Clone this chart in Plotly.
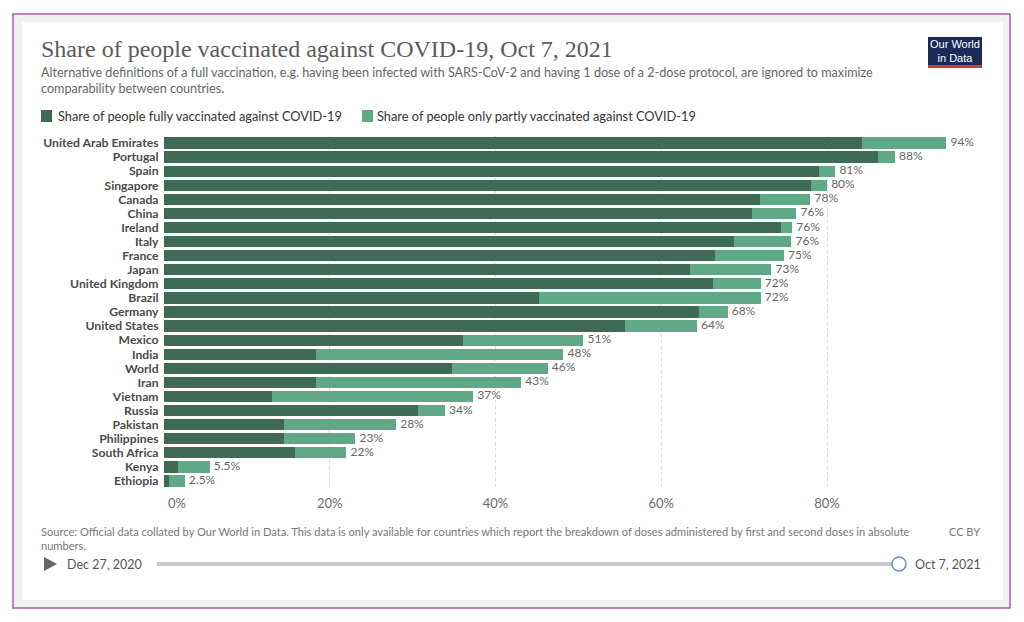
import plotly.graph_objects as go

countries = ["United Arab Emirates", "Portugal", "Spain", "Singapore", "Canada", "China",
             "Ireland", "Italy", "France", "Japan", "United Kingdom", "Brazil", "Germany",
             "United States", "Mexico", "India", "World", "Iran", "Vietnam", "Russia",
             "Pakistan", "Philippines", "South Africa", "Kenya", "Ethiopia"]
fully = [84.2, 86.1, 79.0, 78.1, 71.9, 70.9, 74.4, 68.8, 66.5, 63.5, 66.2, 45.2, 64.6,
         55.6, 36.1, 18.4, 34.7, 18.4, 13.0, 30.7, 14.5, 14.5, 15.8, 1.65, 0.64]
total = [94.4, 88.2, 81.0, 80.0, 78.0, 76.3, 75.8, 75.7, 74.8, 73.3, 72.0, 72.0, 68.0,
         64.3, 50.6, 48.2, 46.3, 43.1, 37.3, 33.9, 28.0, 23.1, 22.0, 5.5, 2.5]
partly = [round(t - f, 2) for t, f in zip(total, fully)]
total_labels = ["94%", "88%", "81%", "80%", "78%", "76%", "76%", "76%", "75%", "73%",
                "72%", "72%", "68%", "64%", "51%", "48%", "46%", "43%", "37%", "34%",
                "28%", "23%", "22%", "5.5%", "2.5%"]
x_ticks = [0, 20, 40, 60, 80]
x_tick_labels = ["\u2002\u2002\u2002\u20020%", "20%", "40%", "60%", "80%"]

DARK = "#3f6b56"
LIGHT = "#60a886"
FONT = "Lato"

OFF = 8  # default page body margin
W, H = 1024 - OFF, 622 - OFF
L, R, T, B = 164 - OFF, 34, 136 - OFF, 134
PW, PH = W - L - R, H - T - B


def px(x):
    return (x - OFF - L) / PW


def py(y):
    return 1 - (y - OFF - T) / PH


fig = go.Figure()
fig.add_trace(go.Bar(y=countries, x=fully, orientation="h", marker=dict(color=DARK, line=dict(width=0)),
                     width=0.8, name="Share of people fully vaccinated against COVID-19",
                     hoverinfo="x+y"))
fig.add_trace(go.Bar(y=countries, x=partly, orientation="h", marker=dict(color=LIGHT, line=dict(width=0)),
                     width=0.8, name="Share of people only partly vaccinated against COVID-19",
                     hoverinfo="x+y"))
fig.add_trace(go.Scatter(y=countries, x=total, mode="markers+text", text=total_labels,
                         textposition="middle right",
                         marker=dict(size=5, opacity=0),
                         textfont=dict(family=FONT, size=12, color="#666666"),
                         hoverinfo="skip"))

shapes = []
ann = []

# card background / border
shapes.append(dict(type="rect", xref="paper", yref="paper", x0=px(13), x1=px(1010), y0=py(14), y1=py(608),
                   line=dict(color="#a85ea3", width=1.5), fillcolor="#f1f1f1", layer="below"))
shapes.append(dict(type="rect", xref="paper", yref="paper", x0=px(22), x1=px(1003), y0=py(22), y1=py(600),
                   line=dict(width=0), fillcolor="#ffffff", layer="below"))

# title & subtitle
ann.append(dict(text="Share of people vaccinated against COVID-19, Oct 7, 2021", xref="paper", yref="paper",
                x=px(39), y=py(49), xanchor="left", yanchor="middle", showarrow=False,
                font=dict(family="Liberation Serif", size=24, color="#5b5b5b")))
ann.append(dict(text="Alternative definitions of a full vaccination, e.g. having been infected with SARS-CoV-2 and having 1 dose of a 2-dose protocol, are ignored to maximize<br>comparability between countries.",
                xref="paper", yref="paper", x=px(39), y=py(63), xanchor="left", yanchor="top", showarrow=False,
                align="left", font=dict(family=FONT, size=12.6, color="#666666")))

# logo
shapes.append(dict(type="rect", xref="paper", yref="paper", x0=px(928), x1=px(982), y0=py(37), y1=py(65),
                   line=dict(width=0), fillcolor="#1a2b57"))
shapes.append(dict(type="rect", xref="paper", yref="paper", x0=px(928), x1=px(982), y0=py(65), y1=py(68),
                   line=dict(width=0), fillcolor="#cf3a3a"))
ann.append(dict(text="Our World<br>in Data", xref="paper", yref="paper", x=px(955), y=py(51),
                xanchor="center", yanchor="middle", showarrow=False,
                font=dict(family="Liberation Sans Narrow, Liberation Sans", size=11, color="#ffffff")))

# legend
shapes.append(dict(type="rect", xref="paper", yref="paper", x0=px(41), x1=px(52), y0=py(110), y1=py(122),
                   line=dict(width=0), fillcolor=DARK))
ann.append(dict(text="Share of people fully vaccinated against COVID-19", xref="paper", yref="paper",
                x=px(56), y=py(116), xanchor="left", yanchor="middle", showarrow=False,
                font=dict(family=FONT, size=12.8, color="#333333")))
shapes.append(dict(type="rect", xref="paper", yref="paper", x0=px(362), x1=px(373), y0=py(110), y1=py(122),
                   line=dict(width=0), fillcolor=LIGHT))
ann.append(dict(text="Share of people only partly vaccinated against COVID-19", xref="paper", yref="paper",
                x=px(375), y=py(116), xanchor="left", yanchor="middle", showarrow=False,
                font=dict(family=FONT, size=12.8, color="#333333")))

# source
ann.append(dict(text="Source: Official data collated by Our World in Data. This data is only available for countries which report the breakdown of doses administered by first and second doses in absolute<br>numbers.",
                xref="paper", yref="paper", x=px(39), y=py(523), xanchor="left", yanchor="top", showarrow=False,
                align="left", font=dict(family=FONT, size=11.1, color="#777777")))
ann.append(dict(text="CC BY", xref="paper", yref="paper", x=px(982), y=py(531), xanchor="right", yanchor="middle",
                showarrow=False, font=dict(family=FONT, size=11, color="#777777")))

# timeline
shapes.append(dict(type="path", xref="paper", yref="paper",
                   path=f"M {px(44)} {py(557)} L {px(57)} {py(564)} L {px(44)} {py(571)} Z",
                   line=dict(width=0), fillcolor="#666666"))
ann.append(dict(text="Dec 27, 2020", xref="paper", yref="paper", x=px(65), y=py(564), xanchor="left",
                yanchor="middle", showarrow=False, font=dict(family=FONT, size=12.5, color="#555555")))
shapes.append(dict(type="line", xref="paper", yref="paper", x0=px(157), x1=px(893), y0=py(564), y1=py(564),
                   line=dict(color="#c9cacd", width=4)))
shapes.append(dict(type="circle", xref="paper", yref="paper", x0=px(892), x1=px(906), y0=py(557), y1=py(571),
                   line=dict(color="#7190c8", width=1.5), fillcolor="#ffffff"))
ann.append(dict(text="Oct 7, 2021", xref="paper", yref="paper", x=px(913), y=py(564), xanchor="left",
                yanchor="middle", showarrow=False, font=dict(family=FONT, size=12.5, color="#555555")))

fig.update_layout(
    width=W, height=H,
    margin=dict(l=L, r=R, t=T, b=B, autoexpand=False),
    barmode="stack",
    showlegend=False,
    paper_bgcolor="#ffffff",
    plot_bgcolor="rgba(0,0,0,0)",
    shapes=shapes,
    annotations=ann,
    font=dict(family=FONT),
    xaxis=dict(range=[0, 826 / (663 / 80)], tickvals=x_ticks, ticktext=x_tick_labels,
               showgrid=True, gridcolor="#dadada", griddash="dot", gridwidth=1,
               zeroline=False, showline=False, ticks="outside", ticklen=3, tickcolor="rgba(0,0,0,0)",
               tickfont=dict(family=FONT, size=13, color="#6a6a6a"), fixedrange=True),
    yaxis=dict(categoryorder="array", categoryarray=countries,
               range=[len(countries) - 0.5, -0.5],
               tickmode="array", tickvals=countries, ticktext=countries,
               showgrid=False, zeroline=False, showline=False, ticks="outside", ticklen=2,
               tickcolor="rgba(0,0,0,0)",
               tickfont=dict(family=FONT, size=12.2, color="#4a4a4a", weight="bold"), fixedrange=True),
)

fig.write_html("out.html")
